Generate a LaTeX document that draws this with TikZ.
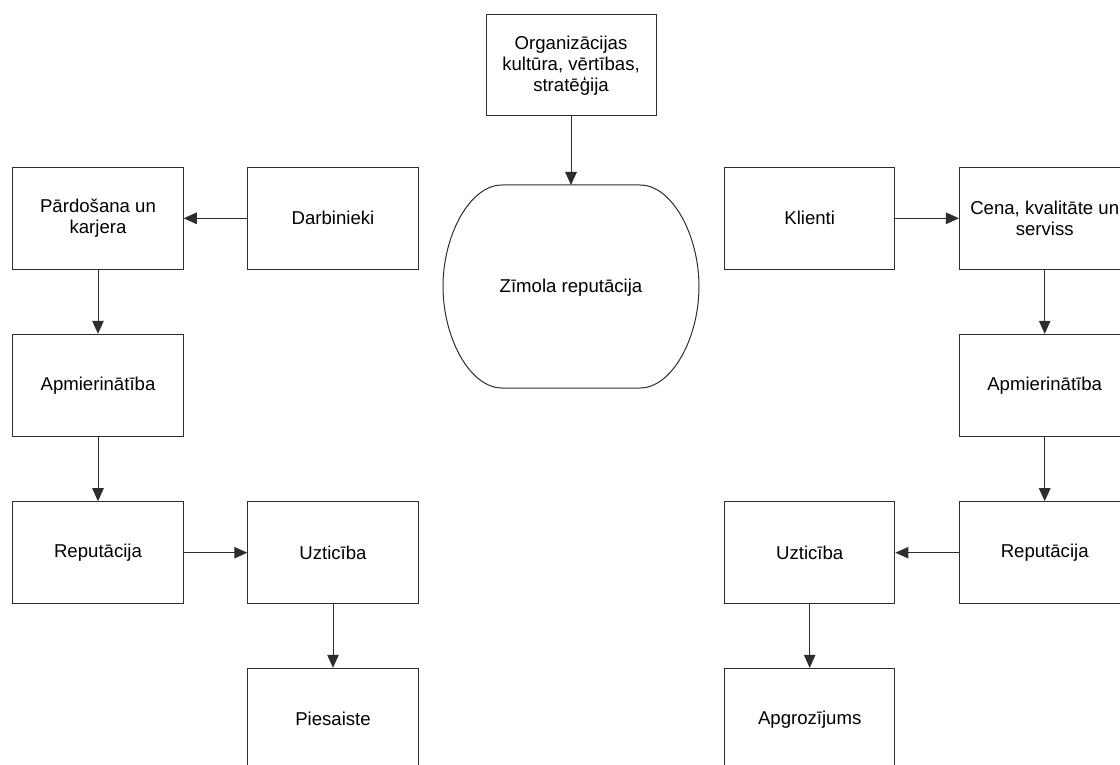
\documentclass[tikz,border=0pt]{standalone}
\usepackage{fontspec}
\setmainfont{Liberation Sans}
\usetikzlibrary{arrows.meta}
\definecolor{ln}{RGB}{45,45,45}
\tikzset{
  box/.style={draw=ln, line width=1pt, minimum width=170.5pt, minimum height=102pt,
    inner sep=0pt, align=center, font=\fontsize{18.6}{21.2}\selectfont},
  arr/.style={draw=ln, line width=1pt, -{Triangle[length=13pt,width=11.5pt]}},
}
\begin{document}
\begin{tikzpicture}[x=1pt,y=-1pt]
\useasboundingbox (0,0) rectangle (1120,765);
% top centre
\node[box, minimum width=170pt, minimum height=101pt] (org) at (571,65.5) {Organizācijas\\kultūra, vērtības,\\stratēģija};
% oval
\draw[ln, line width=1pt] (502,185) -- (640,185)
  .. controls (672,185) and (699,235) .. (699,286.5)
  .. controls (699,338) and (672,388) .. (640,388) -- (502,388)
  .. controls (470,388) and (443,338) .. (443,286.5)
  .. controls (443,235) and (470,185) .. (502,185) -- cycle;
\node[font=\fontsize{18.6}{21.2}\selectfont] (brand) at (571,288) {Zīmola reputācija};
\coordinate (ovtop) at (571,185);
% left side
\node[box] (pard) at (98,218.3) {Pārdošana un\\karjera};
\node[box] (darb) at (333,218.3) {Darbinieki};
\node[box] (apmL) at (98,385.3) {Apmierinātība};
\node[box] (repL) at (98,552.7) {Reputācija};
\node[box] (uztL) at (333,552.7) {Uzticība};
\node[box] (pies) at (333,719.3) {Piesaiste};
% right side
\node[box] (klie) at (809.7,218.3) {Klienti};
\node[box] (cena) at (1044.7,218.3) {Cena, kvalitāte un\\serviss};
\node[box] (apmR) at (1044.7,385.3) {Apmierinātība};
\node[box] (repR) at (1044.7,552.7) {Reputācija};
\node[box] (uztR) at (809.7,552.7) {Uzticība};
\node[box] (apgr) at (809.7,719.3) {Apgrozījums};
% connectors
\draw[arr] (org) -- (ovtop);
\draw[arr] (darb) -- (pard);
\draw[arr] (pard) -- (apmL);
\draw[arr] (apmL) -- (repL);
\draw[arr] (repL) -- (uztL);
\draw[arr] (uztL) -- (pies);
\draw[arr] (klie) -- (cena);
\draw[arr] (cena) -- (apmR);
\draw[arr] (apmR) -- (repR);
\draw[arr] (repR) -- (uztR);
\draw[arr] (uztR) -- (apgr);
\end{tikzpicture}
\end{document}
